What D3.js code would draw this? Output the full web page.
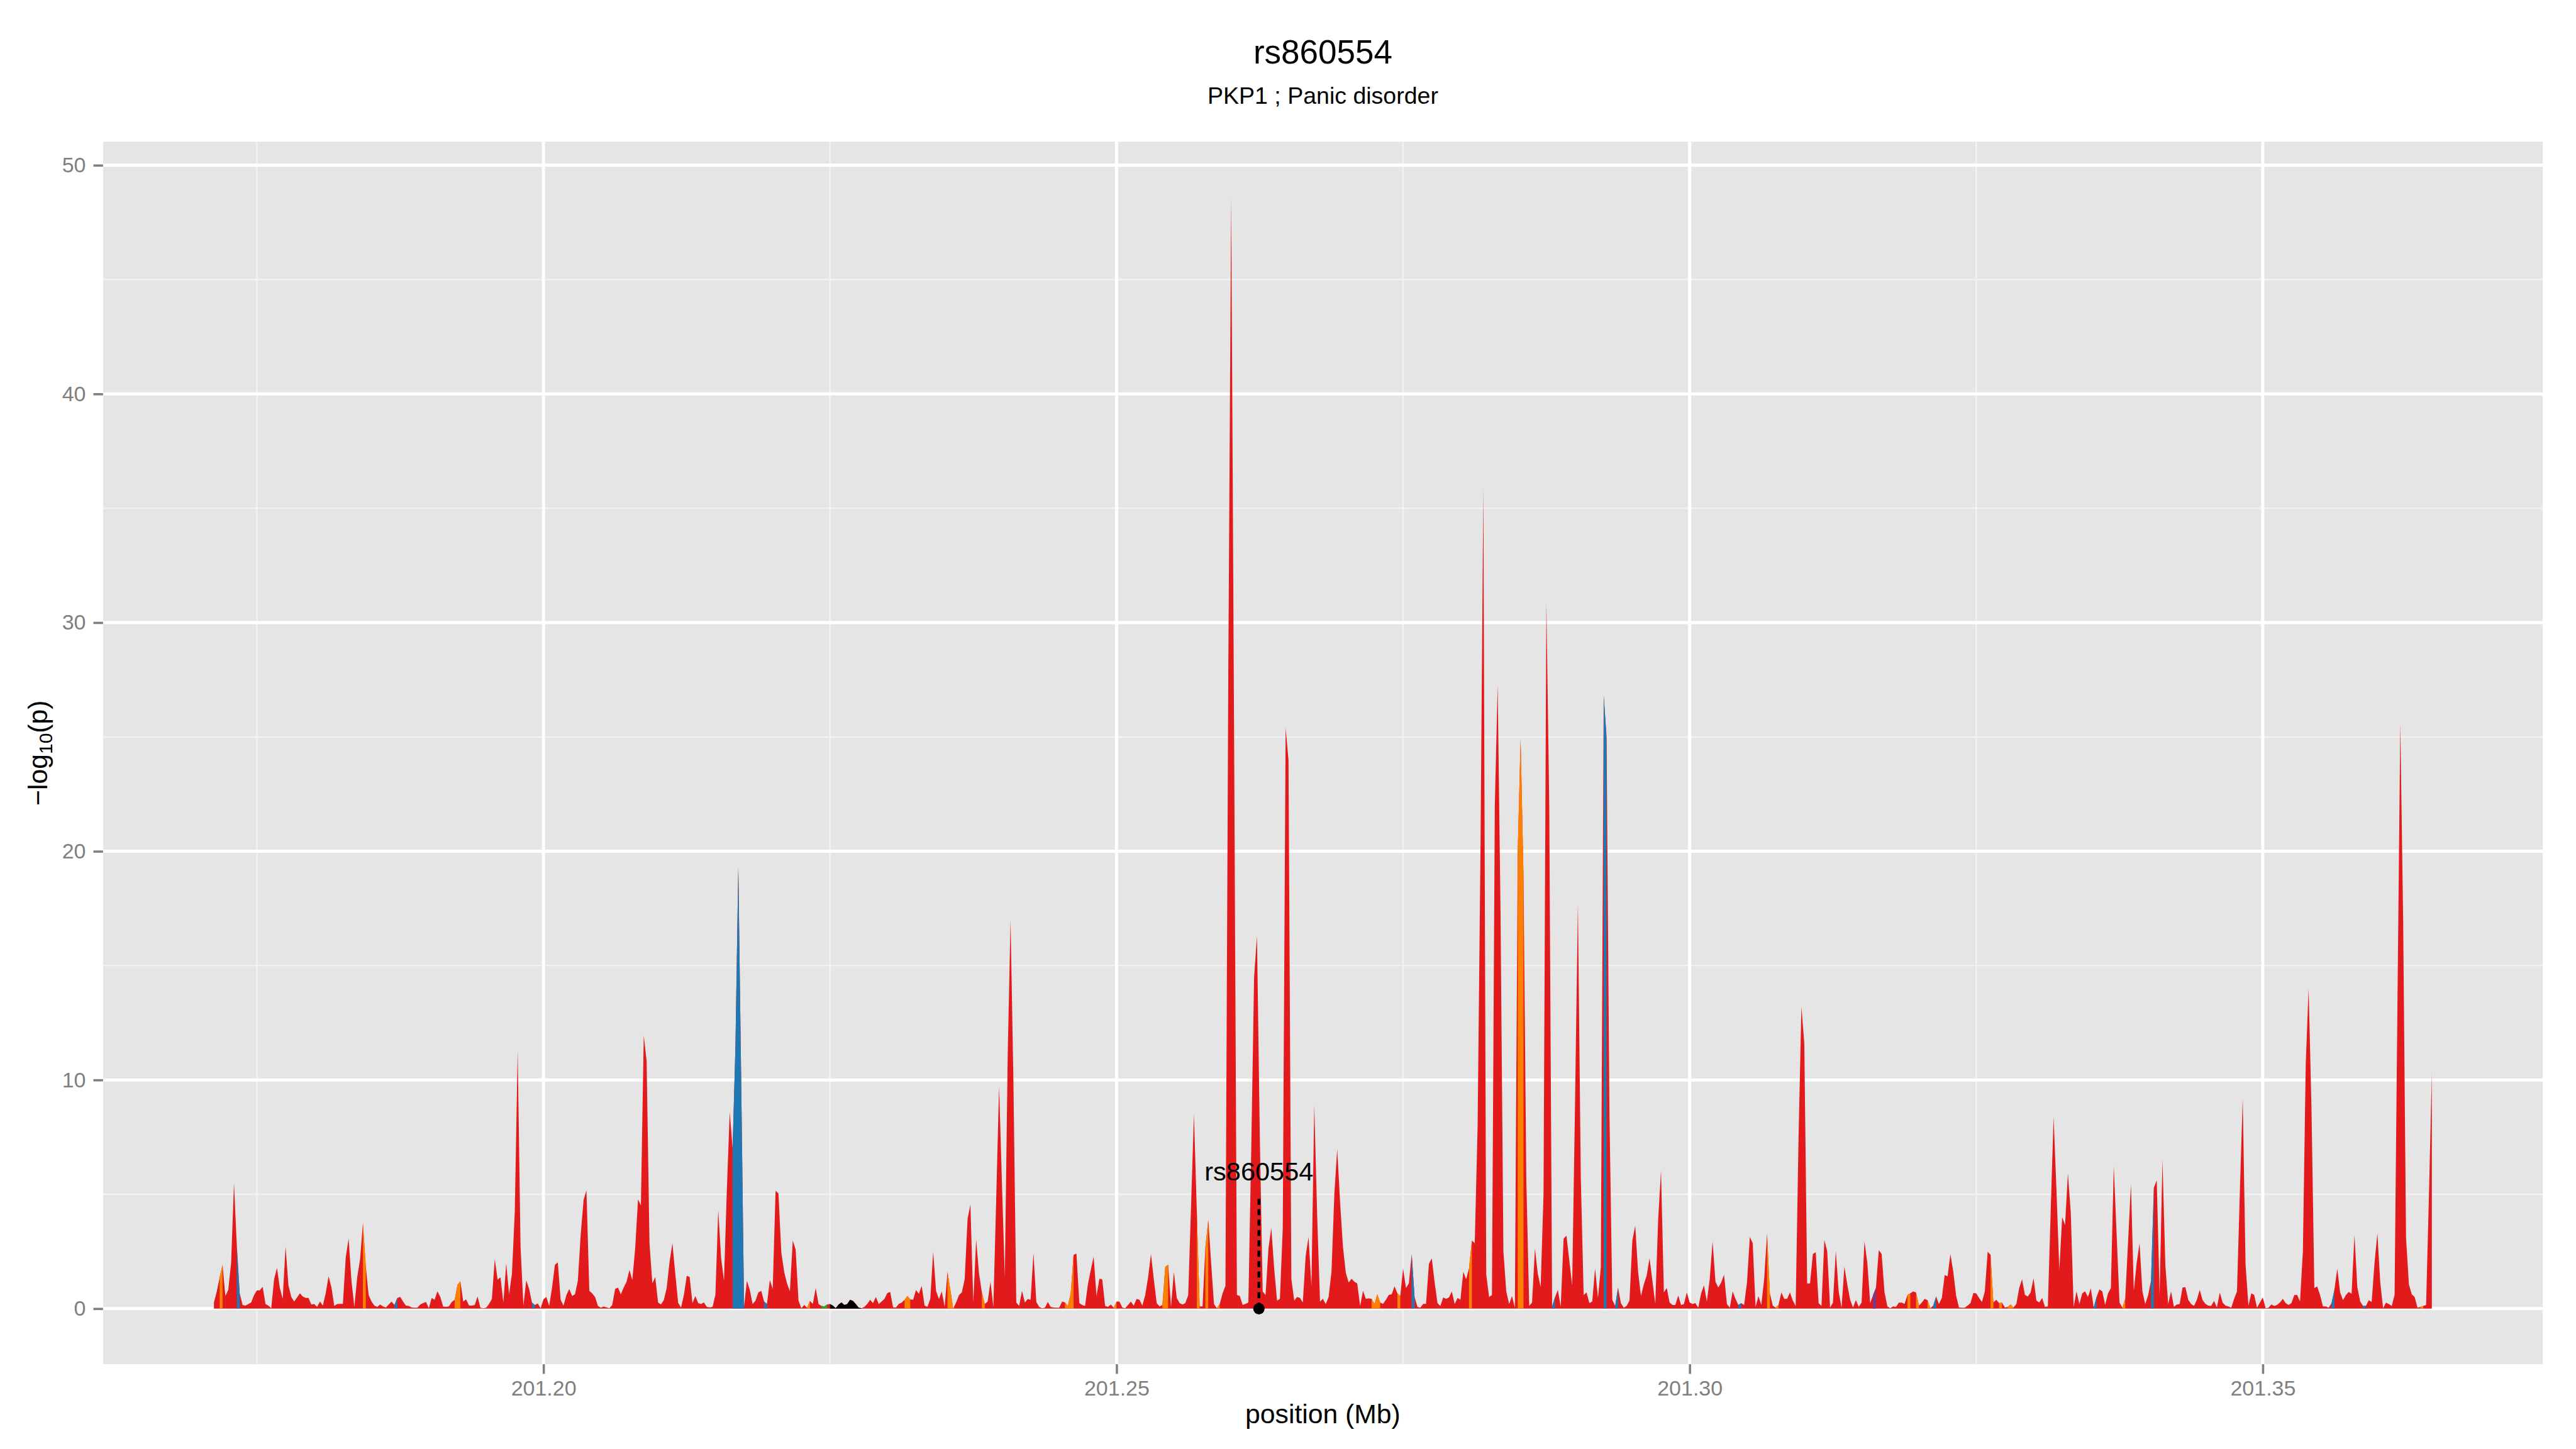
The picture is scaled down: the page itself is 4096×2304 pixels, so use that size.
<!DOCTYPE html>
<html>
<head>
<meta charset="utf-8">
<script src="https://cdn.jsdelivr.net/npm/d3@7"></script>
<style>
  html, body { margin: 0; padding: 0; background: #fff; }
  svg { display: block; font-family: "Liberation Sans", Arial, Helvetica, sans-serif; }
</style>
</head>
<body>
<div id="chart"></div>
<script>
// positions are kb past 201,000,000 bp ; values are -log10(p)
const regionStartKb = 201000;

const logpTrack = [
  [171.25,0.27],[171.5,0.75],[171.75,1.37],[172,1.92],[172.25,0.55],[172.5,0.82],[172.75,2.0],[173,5.49],
  [173.25,2.7],[173.5,0.67],[173.75,0.16],[174,0.13],[174.25,0.2],[174.5,0.27],[174.75,0.59],[175,0.8],
  [175.25,0.8],[175.5,0.96],[175.75,0.2],[176,0.13],[176.25,0.02],[176.5,1.29],[176.75,1.78],[177,0.9],
  [177.25,0.43],[177.5,2.72],[177.75,1.02],[178,0.51],[178.25,0.31],[178.5,0.49],[178.75,0.67],[179,0.53],
  [179.25,0.47],[179.5,0.47],[179.75,0.18],[180,0.2],[180.25,0.08],[180.5,0.31],[180.75,0.13],[181,0.67],
  [181.25,1.41],[181.5,0.94],[181.75,0.12],[182,0.2],[182.25,0.21],[182.5,0.21],[182.75,2.24],[183,3.06],
  [183.25,1.22],[183.5,0.08],[183.75,1.37],[184,2.16],[184.25,3.74],[184.5,1.84],[184.75,0.59],[185,0.31],
  [185.25,0.13],[185.5,0.08],[185.75,0.18],[186,0.1],[186.25,0.05],[186.5,0.18],[186.75,0.31],[187,0.16],
  [187.25,0.47],[187.5,0.51],[187.75,0.31],[188,0.13],[188.25,0.12],[188.5,0.05],[188.75,0.04],[189,0.04],
  [189.25,0.18],[189.5,0.24],[189.75,0.29],[190,0.02],
  [190.25,0.47],[190.5,0.39],[190.75,0.76],[191,0.51],[191.25,0.09],[191.5,0.08],[191.75,0.1],[192,0.29],
  [192.25,0.39],[192.5,1.04],[192.75,1.2],[193,0.31],[193.25,0.41],[193.5,0.14],[193.75,0.13],[194,0.16],
  [194.25,0.53],[194.5,0.04],[194.75,0.02],[195,0.04],[195.25,0.2],[195.5,0.43],[195.75,2.17],[196,1.27],
  [196.25,1.37],[196.5,0.26],[196.75,1.98],[197,0.63],[197.25,1.53],[197.5,4.27],[197.75,11.29],[198,2.71],
  [198.25,0.13],[198.5,1.23],[198.75,0.86],[199,0.26],[199.25,0.16],[199.5,0.23],[199.75,0.02],[200,0.41],
  [200.25,0.51],[200.5,0.12],[200.75,0.92],[201,1.92],[201.25,2.02],[201.5,0.39],[201.75,0.13],[202,0.59],
  [202.25,0.86],[202.5,0.55],[202.75,0.63],[203,1.22],[203.25,3.25],[203.5,4.75],[203.75,5.18],[204,0.78],
  [204.25,0.67],[204.5,0.51],[204.75,0.12],[205,0.04],[205.25,0.09],[205.5,0.06],[205.75,0.02],[206,0.16],
  [206.25,0.86],[206.5,0.92],[206.75,0.63],[207,0.92],[207.25,1.18],[207.5,1.69],[207.75,1.25],[208,2.63],
  [208.25,4.78],[208.5,4.51],[208.75,11.95],[209,10.82],[209.25,2.86],[209.5,1.1],[209.75,1.38],
  [210,0.27],[210.25,0.18],[210.5,0.37],[210.75,0.9],[211,2.04],[211.25,2.86],[211.5,1.53],[211.75,0.26],
  [212,0.04],[212.25,0.59],[212.5,1.43],[212.75,1.39],[213,0.24],[213.25,0.55],[213.5,0.24],[213.75,0.2],
  [214,0.27],[214.25,0.08],[214.5,0.06],[214.75,0.08],[215,0.6],[215.25,4.31],[215.5,2.2],[215.75,1.22],
  [216,5.22],[216.25,8.6],[216.5,7.0],[216.75,11.5],[217,19.3],[217.25,10.0],[217.5,0.1],[217.75,1.22],
  [218,0.82],[218.25,0.2],[218.5,0.35],[218.75,0.71],[219,0.78],[219.25,0.31],[219.5,0.2],[219.75,1.25],
  [220,0.86],[220.25,5.15],[220.5,5.04],[220.75,2.47],[221,1.61],[221.25,1.1],[221.5,0.76],[221.75,2.98],
  [222,2.59],[222.25,0.35],[222.5,0.02],[222.75,0.16],[223,0.04],[223.25,0.34],[223.5,0.21],[223.75,0.9],
  [224,0.2],[224.25,0.12],[224.5,0.1],[224.75,0.18],[225,0.2],[225.25,0.13],[225.5,0.02],[225.75,0.18],
  [226,0.27],[226.25,0.16],[226.5,0.2],[226.75,0.39],[227,0.34],[227.25,0.2],[227.5,0.04],[227.75,0.02],
  [228,0.08],[228.25,0.21],[228.5,0.39],[228.75,0.24],[229,0.51],[229.25,0.2],
  [229.5,0.31],[229.75,0.43],[230,0.68],[230.25,0.73],[230.5,0.06],[230.75,0.05],[231,0.21],[231.25,0.26],
  [231.5,0.39],[231.75,0.55],[232,0.41],[232.25,0.39],[232.5,0.81],[232.75,0.65],[233,1.0],[233.25,0.13],
  [233.5,0.08],[233.75,0.43],[234,2.49],[234.25,0.78],[234.5,0.42],[234.75,0.75],[235,0.08],[235.25,1.61],
  [235.5,0.82],[235.75,0.0],[236,0.27],[236.25,0.59],[236.5,0.71],[236.75,1.29],[237,3.92],[237.25,4.55],
  [237.5,0.27],[237.75,3.02],[238,1.53],[238.25,0.71],[238.5,0.2],[238.75,0.31],[239,1.18],[239.25,0.08],
  [239.5,4.8],[239.75,9.73],[240,5.5],[240.25,1.37],[240.5,11.0],[240.75,17.0],[241,10.0],[241.25,0.27],
  [241.5,0.12],[241.75,0.78],[242,0.27],[242.25,0.42],[242.5,0.39],[242.75,2.43],[243,0.29],[243.25,0.08],
  [243.5,0.02],[243.75,0.04],[244,0.29],[244.25,0.08],[244.5,0.05],[244.75,0.04],[245,0.04],[245.25,0.31],
  [245.5,0.27],[245.75,0.12],[246,0.67],[246.25,2.35],[246.5,2.41],[246.75,0.24],[247,0.16],[247.25,0.12],
  [247.5,1.06],[247.75,1.69],[248,2.27],[248.25,0.55],[248.5,1.31],[248.75,1.28],[249,0.12],
  [249.25,0.08],[249.5,0.18],[249.75,0.04],[250,0.31],[250.25,0.31],[250.5,0.05],[250.75,0.02],[251,0.16],
  [251.25,0.31],[251.5,0.13],[251.75,0.43],[252,0.39],[252.25,0.13],[252.5,0.59],[252.75,1.37],[253,2.39],
  [253.25,1.29],[253.5,0.24],[253.75,0.1],[254,0.16],[254.25,1.83],[254.5,1.92],[254.75,0.08],[255,1.61],
  [255.25,0.47],[255.5,0.24],[255.75,0.18],[256,0.24],[256.25,0.59],[256.5,4.5],[256.75,8.51],[257,4.3],
  [257.25,0.1],[257.5,0.1],[257.75,2.7],[258,3.88],[258.25,2.0],[258.5,0.2],[258.75,0.02],[259,0.2],
  [259.25,0.67],[259.5,1.0],[259.75,28.0],[260,48.6],[260.25,25.4],[260.5,0.6],[260.75,0.55],[261,0.16],
  [261.25,0.21],[261.5,0.27],[261.75,7.0],[262,14.5],[262.25,16.3],[262.5,7.4],[262.75,0.75],[263,0.59],
  [263.25,2.63],[263.5,3.53],[263.75,1.76],[264,0.35],[264.25,0.43],[264.5,3.5],[264.75,25.4],[265,24.0],
  [265.25,1.3],[265.5,0.35],[265.75,0.51],[266,0.47],[266.25,0.27],[266.5,2.31],[266.75,3.14],[267,0.98],
  [267.25,8.9],[267.5,4.1],[267.75,0.31],[268,0.43],[268.25,0.2],[268.5,0.51],
  [268.75,1.6],[269,5.0],[269.25,6.98],[269.5,4.67],[269.75,2.71],[270,1.57],[270.25,1.14],[270.5,1.31],
  [270.75,1.18],[271,1.1],[271.25,0.12],[271.5,0.78],[271.75,0.43],[272,0.45],[272.25,0.43],[272.5,0.21],
  [272.75,0.63],[273,0.26],[273.25,0.21],[273.5,0.39],[273.75,0.6],[274,0.63],[274.25,0.98],[274.5,0.67],
  [274.75,0.55],[275,1.75],[275.25,0.9],[275.5,1.1],[275.75,2.39],[276,0.51],[276.25,0.08],[276.5,0.04],
  [276.75,0.21],[277,0.21],[277.25,1.96],[277.5,2.2],[277.75,1.14],[278,0.24],[278.25,0.12],[278.5,0.49],
  [278.75,0.43],[279,0.49],[279.25,0.75],[279.5,0.2],[279.75,0.47],[280,0.39],[280.25,1.61],[280.5,1.29],
  [280.75,1.76],[281,2.98],[281.25,2.86],[281.5,8.0],[281.75,20.0],[282,35.9],[282.25,1.5],[282.5,0.51],
  [282.75,0.59],[283,22.0],[283.25,27.3],[283.5,17.3],[283.75,2.5],[284,0.75],[284.25,0.2],[284.5,0.55],
  [284.75,0.04],[285,20.0],[285.25,24.9],[285.5,19.0],[285.75,5.6],[286,0.12],[286.25,0.27],[286.5,2.63],
  [286.75,1.53],[287,0.94],[287.25,5.0],[287.5,30.9],[287.75,22.0],[288,0.1],[288.25,0.5],
  [288.5,0.82],[288.75,0.08],[289,3.06],[289.25,3.19],[289.5,2.1],[289.75,1.02],[290,9.0],[290.25,17.7],
  [290.5,5.8],[290.75,0.59],[291,0.71],[291.25,0.24],[291.5,0.31],[291.75,1.76],[292,0.47],[292.25,1.8],
  [292.5,26.8],[292.75,25.0],[293,8.6],[293.25,0.39],[293.5,0.12],[293.75,0.92],[294,0.24],[294.25,0.04],
  [294.5,0.12],[294.75,0.35],[295,2.98],[295.25,3.63],[295.5,1.61],[295.75,0.55],[296,1.06],[296.25,1.45],
  [296.5,2.2],[296.75,1.22],[297,0.2],[297.25,3.88],[297.5,6.04],[297.75,0.71],[298,0.9],[298.25,0.27],
  [298.5,0.16],[298.75,0.16],[299,0.57],[299.25,0.16],[299.5,0.2],[299.75,0.71],[300,0.27],[300.25,0.2],
  [300.5,0.24],[300.75,0.04],[301,0.67],[301.25,1.02],[301.5,0.31],[301.75,1.29],[302,2.94],[302.25,1.18],
  [302.5,0.92],[302.75,1.14],[303,1.49],[303.25,0.2],[303.5,0.04],[303.75,0.75],[304,0.43],[304.25,0.16],
  [304.5,0.24],[304.75,0.16],[305,1.14],[305.25,3.14],[305.5,2.86],[305.75,0.08],[306,0.55],[306.25,0.16],
  [306.5,1.29],[306.75,3.29],[307,0.67],[307.25,0.13],[307.5,0.04],[307.75,0.16],
  [308,0.71],[308.25,0.43],[308.5,0.43],[308.75,0.71],[309,0.35],[309.25,0.12],[309.5,7.5],[309.75,13.2],
  [310,11.6],[310.25,1.1],[310.5,1.1],[310.75,2.39],[311,2.47],[311.25,0.24],[311.5,0.12],[311.75,3.0],
  [312,2.51],[312.25,0.05],[312.5,0.26],[312.75,2.53],[313,0.75],[313.25,0.04],[313.5,1.83],[313.75,1.06],
  [314,0.39],[314.25,0.05],[314.5,0.37],[314.75,0.08],[315,0.27],[315.25,2.94],[315.5,2.0],[315.75,0.24],
  [316,0.59],[316.25,0.9],[316.5,2.56],[316.75,2.39],[317,0.71],[317.25,0.1],[317.5,0.02],[317.75,0.1],
  [318,0.08],[318.25,0.26],[318.5,0.26],[318.75,0.21],[319,0.6],[319.25,0.67],[319.5,0.75],[319.75,0.71],
  [320,0.13],[320.25,0.26],[320.5,0.43],[320.75,0.37],[321,0.02],[321.25,0.13],[321.5,0.53],[321.75,0.2],
  [322,0.47],[322.25,1.47],[322.5,1.41],[322.75,2.39],[323,1.61],[323.25,0.55],[323.5,0.05],[323.75,0.04],
  [324,0.04],[324.25,0.13],[324.5,0.24],[324.75,0.68],[325,0.67],[325.25,0.47],[325.5,0.29],[325.75,0.75],
  [326,2.49],[326.25,2.35],[326.5,0.27],[326.75,0.39],[327,0.24],[327.25,0.26],[327.5,0.05],
  [327.75,0.08],[328,0.18],[328.25,0.05],[328.5,0.2],[328.75,0.9],[329,1.29],[329.25,0.6],[329.5,0.53],
  [329.75,0.71],[330,1.33],[330.25,0.35],[330.5,0.27],[330.75,0.47],[331,0.08],[331.25,0.1],[331.5,4.3],
  [331.75,8.39],[332,5.2],[332.25,1.69],[332.5,4.0],[332.75,3.65],[333,5.92],[333.25,4.2],[333.5,0.08],
  [333.75,0.75],[334,0.2],[334.25,0.67],[334.5,0.76],[334.75,0.51],[335,0.89],[335.25,0.05],[335.5,0.51],
  [335.75,0.84],[336,0.75],[336.25,0.16],[336.5,0.67],[336.75,0.9],[337,6.24],[337.25,3.25],[337.5,0.27],
  [337.75,0.04],[338,0.43],[338.25,2.94],[338.5,5.45],[338.75,0.78],[339,2.0],[339.25,2.86],[339.5,0.75],
  [339.75,0.2],[340,0.59],[340.25,1.22],[340.5,5.29],[340.75,5.61],[341,0.59],[341.25,6.51],[341.5,1.92],
  [341.75,0.2],[342,0.75],[342.25,0.08],[342.5,0.18],[342.75,0.2],[343,0.92],[343.25,0.94],[343.5,0.39],
  [343.75,0.2],[344,0.12],[344.25,0.39],[344.5,0.82],[344.75,0.37],[345,0.21],[345.25,0.13],[345.5,0.12],
  [345.75,0.34],[346,0.05],[346.25,0.71],[346.5,0.26],[346.75,0.13],[347,0.1],[347.25,0.04],
  [347.5,0.43],[347.75,0.75],[348,5.06],[348.25,9.18],[348.5,1.92],[348.75,0.13],[349,0.67],[349.25,0.6],
  [349.5,0.04],[349.75,0.27],[350,0.49],[350.25,0.02],[350.5,0.04],[350.75,0.18],[351,0.12],[351.25,0.16],
  [351.5,0.27],[351.75,0.43],[352,0.24],[352.25,0.16],[352.5,0.24],[352.75,0.59],[353,0.6],[353.25,0.31],
  [353.5,2.5],[353.75,10.7],[354,14.0],[354.25,8.8],[354.5,0.9],[354.75,0.97],[355,0.59],[355.25,0.1],
  [355.5,0.1],[355.75,0.04],[356,0.24],[356.25,0.82],[356.5,1.75],[356.75,0.71],[357,0.37],[357.25,0.59],
  [357.5,0.73],[357.75,0.65],[358,3.22],[358.25,0.94],[358.5,0.31],[358.75,0.12],[359,0.12],[359.25,0.37],
  [359.5,0.29],[359.75,2.0],[360,3.29],[360.25,1.14],[360.5,0.02],[360.75,0.26],[361,0.2],[361.25,0.12],
  [361.5,0.6],[361.75,13.3],[362,25.6],[362.25,16.9],[362.5,3.1],[362.75,1.06],[363,0.63],[363.25,0.51],
  [363.5,0.04],[363.75,0.08],[364,0.12],[364.25,0.16],[364.5,5.0],[364.75,10.3]
];

// segments of the track that are not in the default state: [startKb, endKb, state]
const stateBands = [
  [171.75,172,'orange'],[173.25,173.5,'blue'],[184.25,184.5,'orange'],[187,187.25,'blue'],
  [192.25,192.75,'orange'],[194.5,194.75,'orange'],[199,199.25,'blue'],[216.5,217.5,'blue'],
  [219.25,219.5,'blue'],[223,223.25,'orange'],[224.25,224.75,'green'],[225,227.75,'black'],
  [231.5,232,'orange'],[235.25,235.75,'orange'],[238.25,238.5,'orange'],[245.5,246.25,'orange'],
  [249.75,250,'orange'],[254,254.5,'orange'],[257,257.25,'orange'],[257.75,258,'orange'],
  [258.75,259,'orange'],[272.25,273,'orange'],[274.5,274.75,'orange'],[275.75,276,'blue'],
  [280.75,281,'orange'],[285,285.5,'orange'],[288,288.25,'blue'],[292.5,292.75,'blue'],
  [293.5,293.75,'blue'],[304.25,304.5,'blue'],[306.75,307,'orange'],[307.5,307.75,'orange'],
  [316,316.25,'purple'],[319,319.25,'orange'],[319.75,320,'orange'],[320.75,321,'orange'],
  [321.25,321.5,'blue'],[326.25,326.5,'orange'],[327,327.25,'orange'],[327.75,328.25,'orange'],
  [335.25,335.5,'blue'],[337.75,338,'orange'],[340.25,340.5,'blue'],[356,356.25,'blue'],
  [358.75,359,'blue'],[363.75,364,'orange']
];

const stateNames  = ['red', 'blue', 'orange', 'purple', 'green', 'black'];
const stateColors = ['#E31A1C', '#1F78B4', '#FF7F00', '#6A3D9A', '#33A02C', '#000000'];

const snpName = 'rs860554';
const snpKb = 262.42;
const snpLineTop = 4.85;
const snpLabelY = 6;

const titleText = 'rs860554';
const subtitleText = 'PKP1 ; Panic disorder';
const xTicks = [201.20, 201.25, 201.30, 201.35];
const xMinor = [201.175, 201.225, 201.275, 201.325];
const yTicks = [0, 10, 20, 30, 40, 50];
const yMinor = [5, 15, 25, 35, 45];

const width = 4096;
const height = 2304;
const k = width / 4800;
const panel = { left: 192 * k, right: 4738 * k, top: 264 * k, bottom: 2542 * k };

const toMb = kb => (regionStartKb + kb) / 1000;
const color = d3.scaleOrdinal(stateNames, stateColors);

const xExt = d3.extent(logpTrack, d => toMb(d[0]));
const xPad = (xExt[1] - xExt[0]) * 0.05;
const x = d3.scaleLinear()
  .domain([xExt[0] - xPad, xExt[1] + xPad])
  .range([panel.left, panel.right]);

const yMax = d3.max(logpTrack, d => d[1]);
const y = d3.scaleLinear()
  .domain([-yMax * 0.05, yMax * 1.05])
  .range([panel.bottom, panel.top]);

const svg = d3.select('#chart')
  .append('svg')
  .attr('width', width)
  .attr('height', height);

svg.append('rect')
  .attr('width', width).attr('height', height).attr('fill', '#ffffff');

svg.append('rect')
  .attr('x', panel.left).attr('y', panel.top)
  .attr('width', panel.right - panel.left).attr('height', panel.bottom - panel.top)
  .attr('fill', '#E5E5E5');

// grid
const grid = svg.append('g');
grid.selectAll('.xminor').data(xMinor).enter().append('line')
  .attr('x1', d => x(d)).attr('x2', d => x(d))
  .attr('y1', panel.top).attr('y2', panel.bottom)
  .attr('stroke', '#F2F2F2').attr('stroke-width', 2.4);
grid.selectAll('.yminor').data(yMinor).enter().append('line')
  .attr('x1', panel.left).attr('x2', panel.right)
  .attr('y1', d => y(d)).attr('y2', d => y(d))
  .attr('stroke', '#F2F2F2').attr('stroke-width', 2.4);
grid.selectAll('.xmajor').data(xTicks).enter().append('line')
  .attr('x1', d => x(d)).attr('x2', d => x(d))
  .attr('y1', panel.top).attr('y2', panel.bottom)
  .attr('stroke', '#ffffff').attr('stroke-width', 5);
grid.selectAll('.ymajor').data(yTicks).enter().append('line')
  .attr('x1', panel.left).attr('x2', panel.right)
  .attr('y1', d => y(d)).attr('y2', d => y(d))
  .attr('stroke', '#ffffff').attr('stroke-width', 5);

// area track
const area = d3.area()
  .x(d => x(toMb(d[0])))
  .y0(y(0))
  .y1(d => y(d[1]));

const defs = svg.append('defs');
stateBands.forEach((b, i) => {
  defs.append('clipPath').attr('id', 'band' + i)
    .append('rect')
    .attr('x', x(toMb(b[0])))
    .attr('width', x(toMb(b[1])) - x(toMb(b[0])))
    .attr('y', panel.top)
    .attr('height', panel.bottom - panel.top);
});

const track = svg.append('g');
track.append('path')
  .datum(logpTrack)
  .attr('d', area)
  .attr('fill', color('red'));

track.selectAll('.band')
  .data(stateBands)
  .enter()
  .append('path')
  .attr('clip-path', (d, i) => 'url(#band' + i + ')')
  .attr('d', area(logpTrack))
  .attr('fill', d => color(d[2]));

// SNP marker
const sx = x(toMb(snpKb));
svg.append('line')
  .attr('x1', sx).attr('x2', sx)
  .attr('y1', y(0)).attr('y2', y(snpLineTop))
  .attr('stroke', '#000').attr('stroke-width', 4.5)
  .attr('stroke-dasharray', '9.5,7');
svg.append('circle')
  .attr('cx', sx).attr('cy', y(0)).attr('r', 9.1)
  .attr('fill', '#000');
svg.append('text')
  .attr('x', sx).attr('y', y(snpLabelY))
  .attr('dy', '0.35em')
  .attr('text-anchor', 'middle')
  .attr('font-size', 41.5)
  .attr('fill', '#000')
  .text(snpName);

// axes
const tickLen = 18 * k;
const xAxis = svg.append('g')
  .attr('transform', 'translate(0,' + panel.bottom + ')')
  .call(d3.axisBottom(x).tickValues(xTicks).tickFormat(d3.format('.2f'))
    .tickSize(tickLen).tickPadding(10.5));
const yAxis = svg.append('g')
  .attr('transform', 'translate(' + panel.left + ',0)')
  .call(d3.axisLeft(y).tickValues(yTicks).tickFormat(d3.format('d'))
    .tickSize(tickLen).tickPadding(12));

[xAxis, yAxis].forEach(a => {
  a.select('.domain').remove();
  a.selectAll('.tick line').attr('stroke', '#7F7F7F').attr('stroke-width', 3.6);
  a.selectAll('.tick text')
    .attr('fill', '#7F7F7F')
    .attr('font-size', 34)
    .attr('font-family', '"Liberation Sans", Arial, Helvetica, sans-serif');
});

const cx = (panel.left + panel.right) / 2;

svg.append('text')
  .attr('x', cx).attr('y', 2652 * k)
  .attr('text-anchor', 'middle')
  .attr('font-size', 42.7)
  .text('position (Mb)');

const ylab = svg.append('text')
  .attr('transform', 'translate(' + (88 * k) + ',' + ((panel.top + panel.bottom) / 2) + ') rotate(-90)')
  .attr('text-anchor', 'middle')
  .attr('font-size', 42.7);
ylab.append('tspan').text('\u2212log');
ylab.append('tspan').attr('font-size', 30).attr('dy', 8).text('10');
ylab.append('tspan').attr('dy', -8).text('(p)');

svg.append('text')
  .attr('x', cx).attr('y', 118 * k)
  .attr('text-anchor', 'middle')
  .attr('font-size', 53)
  .text(titleText);

svg.append('text')
  .attr('x', cx).attr('y', 193 * k)
  .attr('text-anchor', 'middle')
  .attr('font-size', 37.5)
  .text(subtitleText);
</script>
</body>
</html>
